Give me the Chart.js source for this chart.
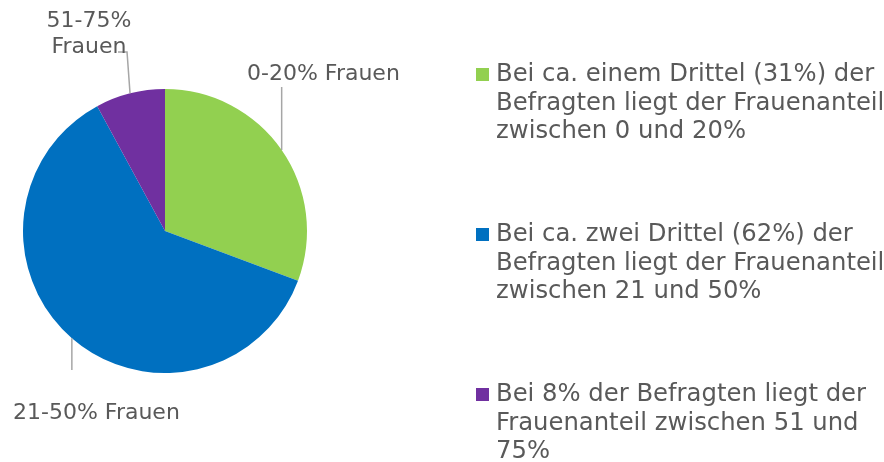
<!DOCTYPE html>
<html>
<head>
<meta charset="utf-8">
<script src="https://cdn.jsdelivr.net/npm/chart.js@4"></script>
<style>
  html, body { margin: 0; padding: 0; background: #fff; }
  #wrap { position: relative; width: 884px; height: 462px; }
  #chart { position: absolute; left: 0; top: 0; }
  .entry { position: absolute; left: 476px; font-family: "DejaVu Sans", Verdana, sans-serif;
           font-size: 24.3px; line-height: 28.5px; color: #595959; white-space: nowrap; }
  .entry .box { position: absolute; left: 0; top: 9px; width: 13px; height: 13px; }
  .entry .txt { position: absolute; left: 20px; top: 0; }
</style>
</head>
<body>
<div id="wrap">
  <canvas id="chart" width="884" height="462"></canvas>
  <div id="legend"></div>
</div>
<script>
// data
const categories = ['0-20% Frauen', '21-50% Frauen', '51-75% Frauen'];
const shares = [31, 62, 8];
const sliceColors = ['#92D050', '#0070C0', '#7030A0'];
const sliceLabels = [['0-20% Frauen'], ['21-50% Frauen'], ['51-75%', 'Frauen']];
const legendLines = [
  ['Bei ca. einem Drittel (31%) der', 'Befragten liegt der Frauenanteil', 'zwischen 0 und 20%'],
  ['Bei ca. zwei Drittel (62%) der', 'Befragten liegt der Frauenanteil', 'zwischen 21 und 50%'],
  ['Bei 8% der Befragten liegt der', 'Frauenanteil zwischen 51 und', '75%']
];

// where each slice label sits and how its leader line runs
const labelLayout = [
  { x: 247, y: 80, align: 'left', lineTo: [[0, 87]] },
  { x: 13, y: 419, align: 'left', lineTo: [[0, 370]] },
  { x: 89, y: 27, align: 'center', lineTo: [[-3, 52], [118, 52, true]] }
];
const legendTops = [59, 219, 379];

const textColor = '#595959';

const sliceLabelPlugin = {
  id: 'sliceLabels',
  afterDatasetsDraw(chart) {
    const ctx = chart.ctx;
    const meta = chart.getDatasetMeta(0);
    ctx.save();
    meta.data.forEach((arc, i) => {
      const p = arc.getProps(['x', 'y', 'startAngle', 'endAngle', 'outerRadius'], true);
      const mid = (p.startAngle + p.endAngle) / 2;
      const px = p.x + Math.cos(mid) * p.outerRadius;
      const py = p.y + Math.sin(mid) * p.outerRadius;
      const lay = labelLayout[i];

      // leader line
      ctx.strokeStyle = '#A6A6A6';
      ctx.lineWidth = 1.5;
      ctx.beginPath();
      ctx.moveTo(px, py);
      lay.lineTo.forEach(pt => {
        const lx = pt[2] ? pt[0] : px + pt[0];
        ctx.lineTo(lx, pt[1]);
      });
      ctx.stroke();

      // text
      ctx.fillStyle = textColor;
      ctx.font = '22px "DejaVu Sans", Verdana, sans-serif';
      ctx.textAlign = lay.align;
      ctx.textBaseline = 'alphabetic';
      sliceLabels[i].forEach((line, k) => {
        ctx.fillText(line, lay.x, lay.y + k * 26);
      });
    });
    ctx.restore();
  }
};

const canvas = document.getElementById('chart');
new Chart(canvas, {
  type: 'pie',
  data: {
    labels: categories,
    datasets: [{
      data: shares,
      backgroundColor: sliceColors,
      borderWidth: 0
    }]
  },
  options: {
    responsive: false,
    animation: false,
    layout: { padding: { left: 23, top: 89, right: 577, bottom: 89 } },
    plugins: {
      legend: { display: false },
      tooltip: { enabled: false }
    }
  },
  plugins: [sliceLabelPlugin]
});

// legend as html
const legend = document.getElementById('legend');
legendLines.forEach((lines, i) => {
  const entry = document.createElement('div');
  entry.className = 'entry';
  entry.style.top = legendTops[i] + 'px';
  const box = document.createElement('span');
  box.className = 'box';
  box.style.background = sliceColors[i];
  const txt = document.createElement('div');
  txt.className = 'txt';
  txt.innerHTML = lines.join('<br>');
  entry.appendChild(box);
  entry.appendChild(txt);
  legend.appendChild(entry);
});
</script>
</body>
</html>
